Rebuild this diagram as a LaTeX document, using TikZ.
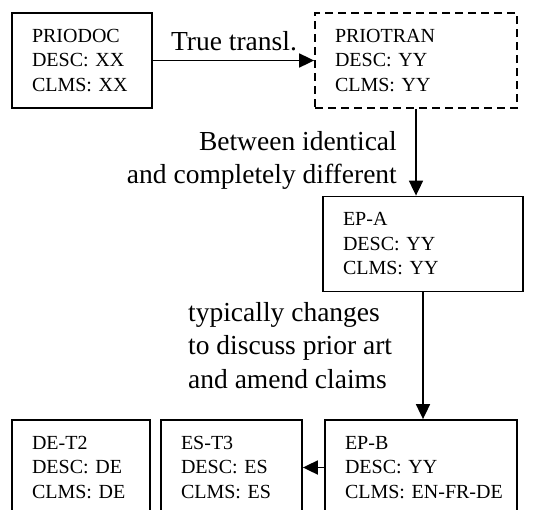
\documentclass[tikz,border=0pt]{standalone}
\usepackage{fontspec}
\setmainfont{Liberation Serif}
\usetikzlibrary{arrows.meta}
\tikzset{
  docbox/.style={draw, line width=1.8pt, rectangle, inner sep=0pt, minimum height=95pt, align=left, font=\fontsize{20}{24.5}\selectfont},
  dashbox/.style={docbox, dash pattern=on 8pt off 5pt},
  conn/.style={line width=1.8pt, -{Triangle[length=15pt,width=14pt]}},
  lbl/.style={inner sep=0pt, font=\fontsize{27.5}{33.5}\selectfont}
}
\begin{document}
\begin{tikzpicture}[x=1pt,y=-1pt]
\clip (0,0) rectangle (533,509);
\fill[white] (0,0) rectangle (533,509);
\node[docbox, minimum width=140pt, text width=100pt] (prio) at (82,60.5) {PRIODOC\\DESC: XX\\CLMS: XX};
\node[dashbox, minimum width=202pt, text width=162pt] (ptran) at (416,60.5) {PRIOTRAN\\DESC: YY\\CLMS: YY};
\node[docbox, minimum width=200pt, text width=160pt] (epa) at (423,244) {EP-A\\DESC: YY\\CLMS: YY};
\node[docbox, minimum width=138pt, text width=98pt] (det) at (81,467.5) {DE-T2\\DESC: DE\\CLMS: DE};
\node[docbox, minimum width=141pt, text width=101pt] (est) at (231.5,467.5) {ES-T3\\DESC: ES\\CLMS: ES};
\node[docbox, minimum width=192pt, text width=152pt] (epb) at (421,467.5) {EP-B\\DESC: YY\\\mbox{CLMS: EN-FR-DE}};
\draw[conn] (prio) -- (ptran);
\draw[conn] (ptran.south) -- (ptran.south |- epa.north);
\draw[conn] (epa.south) -- (epa.south |- epb.north);
\draw[conn] (epb) -- (est);
\node[lbl, anchor=base] (l1) at (234,50) {True transl.};
\node[lbl, anchor=north east, align=right] (l2) at (397,131) {Between identical\\and completely different};
\node[lbl, anchor=north west, align=left] (l3) at (188,302) {typically changes\\to discuss prior art\\and amend claims};
\end{tikzpicture}
\end{document}
